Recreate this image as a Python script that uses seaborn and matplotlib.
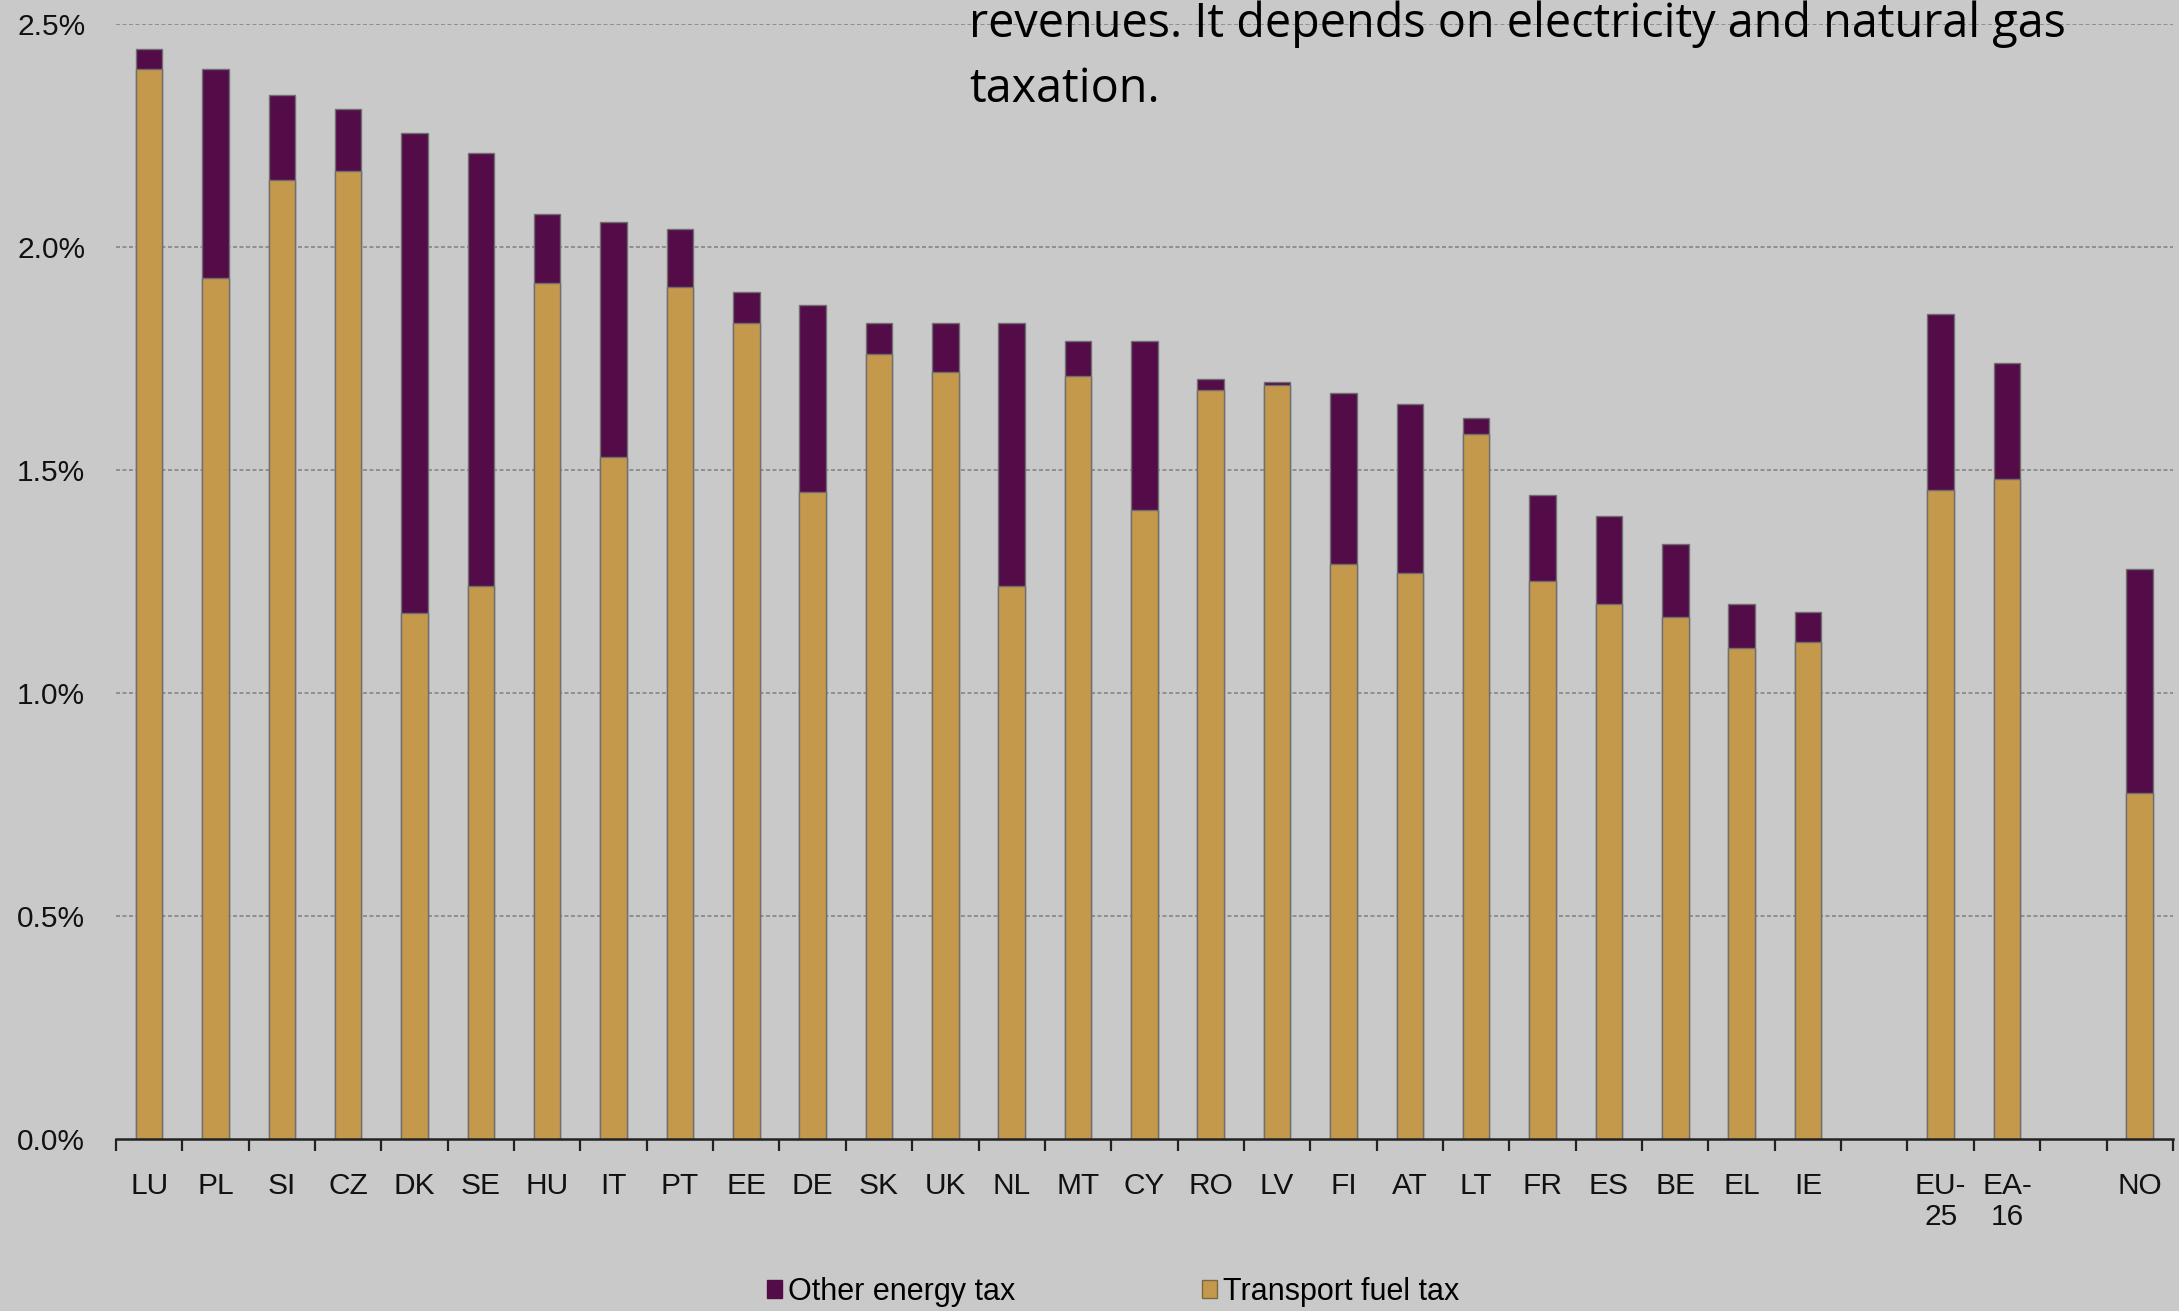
import matplotlib
matplotlib.use("Agg")
import matplotlib.pyplot as plt
from matplotlib.patches import Patch
from matplotlib.ticker import FixedLocator, FuncFormatter
import seaborn as sns
import pandas as pd

# ---- data (share of GDP, %) ----
countries = ["LU", "PL", "SI", "CZ", "DK", "SE", "HU", "IT", "PT", "EE", "DE", "SK",
             "UK", "NL", "MT", "CY", "RO", "LV", "FI", "AT", "LT", "FR", "ES", "BE",
             "EL", "IE", "EU-\n25", "EA-\n16", "NO"]
transport_fuel_tax = [2.40, 1.93, 2.15, 2.17, 1.18, 1.24, 1.92, 1.53, 1.91, 1.83, 1.45, 1.76,
                      1.72, 1.24, 1.71, 1.41, 1.68, 1.69, 1.29, 1.27, 1.58, 1.25, 1.20, 1.17,
                      1.10, 1.115, 1.455, 1.48, 0.775]
other_energy_tax = [0.045, 0.47, 0.19, 0.14, 1.075, 0.97, 0.155, 0.525, 0.13, 0.07, 0.42, 0.07,
                    0.11, 0.59, 0.08, 0.38, 0.025, 0.008, 0.382, 0.377, 0.037, 0.195, 0.196, 0.163,
                    0.099, 0.067, 0.395, 0.26, 0.502]
slot_order = countries[:26] + ["gap1"] + countries[26:28] + ["gap2"] + countries[28:]
y_ticks = [0.0, 0.5, 1.0, 1.5, 2.0, 2.5]
legend_labels = ["Other energy tax", "Transport fuel tax"]
note_lines = ["revenues. It depends on electricity and natural gas", "taxation."]

df = pd.DataFrame({"country": countries,
                   "transport": transport_fuel_tax,
                   "other": other_energy_tax})
df["total"] = df["transport"] + df["other"]

BG = "#c9c9c9"
PURPLE = "#530c47"
GOLD = "#c4994c"
EDGE = "#6f6f6f"

fig = plt.figure(figsize=(21.79, 13.11), dpi=100, facecolor=BG)
ax = fig.add_axes([0.0532, 0.1312, 0.9440, 0.8505])
ax.set_facecolor(BG)

sns.barplot(data=df, x="country", y="total", order=slot_order, color=PURPLE,
            width=0.4, edgecolor=EDGE, linewidth=1.0, saturation=1, ax=ax, zorder=3,
            errorbar=None)
sns.barplot(data=df, x="country", y="transport", order=slot_order, color=GOLD,
            width=0.4, edgecolor=EDGE, linewidth=1.0, saturation=1, ax=ax, zorder=4,
            errorbar=None)

ax.set_xlim(-0.5, len(slot_order) - 0.5)
ax.set_ylim(0, 2.5)
ax.set_xlabel("")
ax.set_ylabel("")

# y axis
ax.yaxis.set_major_locator(FixedLocator(y_ticks))
ax.yaxis.set_major_formatter(FuncFormatter(lambda v, p: f"{v:.1f}%"))
ax.tick_params(axis="y", length=0, pad=22, labelsize=21.5, labelcolor="#111111")
for v in y_ticks[1:]:
    ax.axhline(v, color="#8a8a8a", lw=1.3, ls=(0, (2.2, 1.4)), zorder=1)

# x axis: labels at centers, ticks at slot boundaries
ax.set_xticks(range(len(slot_order)))
ax.set_xticklabels([("" if s.startswith("gap") else s) for s in slot_order])
ax.set_xticks([i - 0.5 for i in range(len(slot_order) + 1)], minor=True)
ax.tick_params(axis="x", which="major", length=0, pad=24, labelsize=21.5,
               labelcolor="#111111")
ax.tick_params(axis="x", which="minor", length=8.5, width=1.6, color="#222222",
               direction="out")
for lab in ax.get_xticklabels():
    lab.set_linespacing(1.1)

for s in ["top", "right", "left"]:
    ax.spines[s].set_visible(False)
ax.spines["bottom"].set_color("#222222")
ax.spines["bottom"].set_linewidth(1.8)
ax.spines["bottom"].set_zorder(6)

for t in ax.get_xticklabels() + ax.get_yticklabels():
    t.set_family(["Liberation Sans", "DejaVu Sans"])

# legend
handles = [Patch(facecolor=PURPLE, edgecolor=PURPLE),
           Patch(facecolor=GOLD, edgecolor="#7a6a40")]
leg = fig.legend(handles, legend_labels, loc="center left", ncol=2,
                 bbox_to_anchor=(0.352, 0.0145), frameon=False,
                 prop={"family": ["Liberation Sans", "DejaVu Sans"], "size": 22},
                 handlelength=0.5, handleheight=0.5, handletextpad=0.2,
                 columnspacing=6.1, borderpad=0, borderaxespad=0)

# overlapping slide note text
fig.text(0.4447, 1 - 37 / 1311, note_lines[0], family=["Open Sans", "DejaVu Sans"],
         fontsize=33.7, va="baseline", ha="left", color="#000000")
fig.text(0.4447, 1 - 102 / 1311, note_lines[1], family=["Open Sans", "DejaVu Sans"],
         fontsize=33.7, va="baseline", ha="left", color="#000000")

fig.savefig("out.png", dpi=100, facecolor=BG)
